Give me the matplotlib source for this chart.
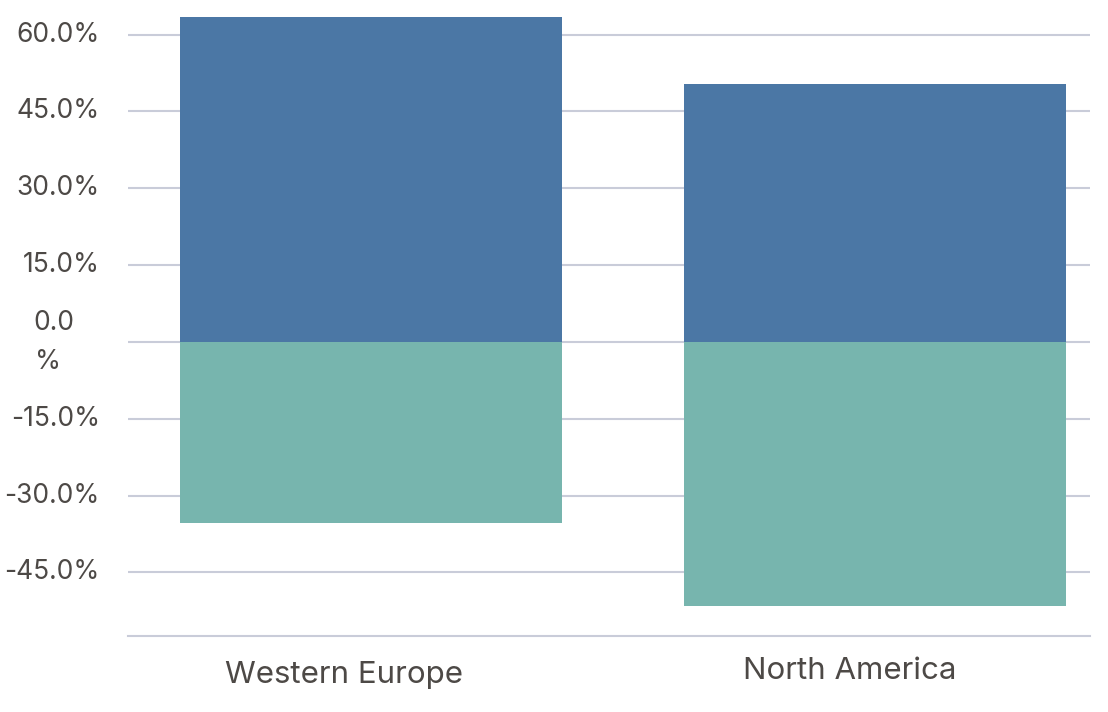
import matplotlib
matplotlib.use("Agg")
import matplotlib.pyplot as plt
from matplotlib.transforms import offset_copy

categories = ["Western Europe", "North America"]
positive = [63.4, 50.3]
negative = [-35.4, -51.5]
yticks = [-45, -30, -15, 0, 15, 30, 45, 60]
ytick_labels = ["-45.0%", "-30.0%", "-15.0%", "0.0\n%", "15.0%", "30.0%", "45.0%", "60.0%"]

BLUE = "#4b77a5"
TEAL = "#77b5ae"
GRID = "#c9ccd9"
TXT = "#4d4946"

plt.rcParams['font.family'] = ['Inter', 'DejaVu Sans']

fig = plt.figure(figsize=(11.08, 7.12), dpi=100)
ax = fig.add_axes([128/1108, 1-636/712, 962/1108, (636-10)/712])

x = list(range(len(categories)))
ax.bar(x, positive, width=0.758, color=BLUE, zorder=2)
ax.bar(x, negative, width=0.758, color=TEAL, zorder=2)

ax.set_xlim(-0.482, 1.427)
ax.set_ylim(-57.4, 64.8)

ax.set_yticks(yticks)
ax.set_yticklabels([])
ax.tick_params(axis='y', length=0)
ax.tick_params(axis='x', length=0)
ax.set_xticks([])
ax.yaxis.grid(True, color=GRID, linewidth=1.5, zorder=0)
for s in ["top", "right", "left"]:
    ax.spines[s].set_visible(False)
ax.spines["bottom"].set_color(GRID)
ax.spines["bottom"].set_linewidth(1.5)

# y tick labels as text
trans = ax.get_yaxis_transform()
for v, lab in zip(yticks, ytick_labels):
    if "\n" in lab:
        a, b = lab.split("\n")
        t = offset_copy(trans, fig=fig, x=-95, y=19, units='dots')
        ax.text(0, v, a, transform=t, ha='left', va='center', fontsize=19, color=TXT)
        t2 = offset_copy(trans, fig=fig, x=-93, y=-20, units='dots')
        ax.text(0, v, b, transform=t2, ha='left', va='center', fontsize=19, color=TXT)
    else:
        t = offset_copy(trans, fig=fig, x=-28, y=0, units='dots')
        ax.text(0, v, lab, transform=t, ha='right', va='center', fontsize=19, color=TXT)

# x labels
xtrans = ax.get_xaxis_transform()
offsets = [(-27, -39), (-25, -35)]
for xi, lab, (dx, dy) in zip(x, categories, offsets):
    t = offset_copy(xtrans, fig=fig, x=dx, y=dy, units='dots')
    ax.text(xi, 0, lab, transform=t, ha='center', va='center', fontsize=22.5, color=TXT)

fig.savefig("out.png", dpi=100)
